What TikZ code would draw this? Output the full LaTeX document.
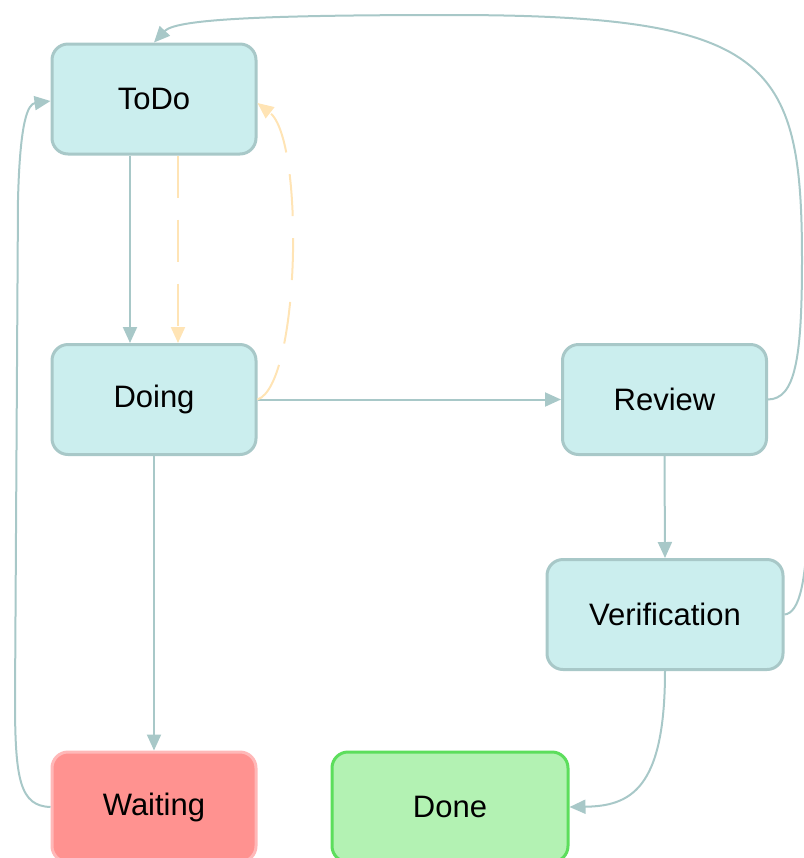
\documentclass[tikz,border=0pt]{standalone}
\usepackage{fontspec}
\setmainfont{Liberation Sans}
\usetikzlibrary{arrows.meta}

\definecolor{boxfill}{HTML}{CBEEEE}
\definecolor{boxline}{HTML}{A8C8C8}
\definecolor{dashline}{HTML}{FFE4B5}
\definecolor{waitfill}{HTML}{FF9290}
\definecolor{waitline}{HTML}{FFB8B8}
\definecolor{donefill}{HTML}{B3F2B3}
\definecolor{doneline}{HTML}{5CDE5C}

\tikzset{
    state/.style={draw=boxline, fill=boxfill, line width=1.5pt, rounded corners=8pt,
        minimum width=102pt, minimum height=55pt, font=\fontsize{15.5}{18}\selectfont},
    edge/.style={draw=boxline, line width=1pt, -{Triangle[length=8pt,width=7pt]}},
    retry/.style={draw=dashline, line width=1pt, dash pattern=on 21pt off 11pt,
        -{Triangle[length=8pt,width=7pt]}}
}

\begin{document}
\begin{tikzpicture}[x=0.5pt, y=-0.5pt]
    % Canvas
    \clip (0,0) rectangle (804,858);

    % States
    \node[state] (todo) at (154,99) {ToDo};
    \node[state] (doing) at (154,399.5) {Doing};
    \node[state] (review) at (664.5,399.5) {Review};
    \node[state, minimum width=118pt] (verif) at (665,614.5) {Verification};
    \node[state, draw=waitline, fill=waitfill] (waiting) at (154,807) {Waiting};
    \node[state, minimum width=118pt, draw=doneline, fill=donefill] (done) at (450,807) {Done};

    % Main flow
    \draw[edge] ([xshift=-12pt]todo.south) -- ([xshift=-12pt]doing.north);
    \draw[edge] (doing.east) -- (review.west);
    \draw[edge] (doing.south) -- (waiting.north);
    \draw[edge] (review.south) -- (verif.north);
    \draw[edge] (verif.south) .. controls (665,790) and (630,806) .. (done.east);

    % Dashed retry loop
    \draw[retry] ([xshift=12pt]todo.south) -- ([xshift=12pt]doing.north);
    \draw[retry] (doing.east) .. controls (300,385) and (305,140) .. ([yshift=-2pt]todo.east);

    % Back to ToDo
    \draw[edge] (waiting.west) .. controls (20,806) and (15,780) .. (15,700)
        -- (18,200) .. controls (20,120) and (28,104) .. ([yshift=-1pt]todo.west);
    \draw[edge] (review.east) .. controls (795,399) and (802,360) .. (802,260)
        .. controls (802,60) and (770,15) .. (450,15)
        .. controls (250,15) and (175,20) .. (todo.north);
    \draw[boxline, line width=1pt] (verif.east) .. controls (800,613) and (806,580) .. (808,520)
        -- (810,400);
\end{tikzpicture}
\end{document}
